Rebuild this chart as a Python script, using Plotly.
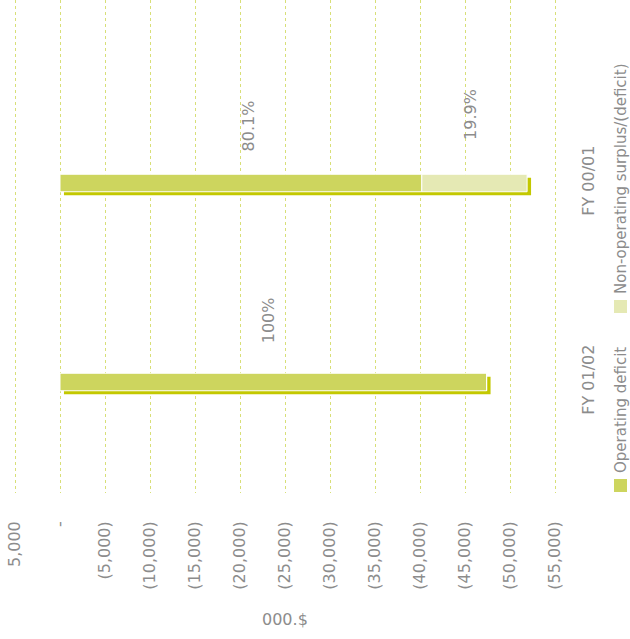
import plotly.graph_objects as go

# ---- data ($'000) ----
categories = ["FY 01/02", "FY 00/01"]
operating_deficit = [-47400, -40200]
non_operating = [0, -11700]
pct_operating = ["100%", "80.1%"]
pct_non_operating = ["", "19.9%"]
tick_values = [5000, 0, -5000, -10000, -15000, -20000, -25000, -30000,
               -35000, -40000, -45000, -50000, -55000]
tick_labels = ["5,000", "-", "(5,000)", "(10,000)", "(15,000)", "(20,000)",
               "(25,000)", "(30,000)", "(35,000)", "(40,000)", "(45,000)",
               "(50,000)", "(55,000)"]
series_names = ["Operating deficit", "Non-operating surplus/(deficit)"]

totals = [o + n for o, n in zip(operating_deficit, non_operating)]

W, H = 630, 639
L, R, T, B = 10, 565, 0, 493
FONT = "DejaVu Sans"
FS = 16
GREY = "#8c8c8c"
C_OP = "#cdd55e"
C_NON = "#e5e9b4"
C_SHADOW = "#c3c800"
C_GRID = "#d8df78"


def xp(px):
    return (px - L) / (R - L)


def yp(py):
    return (B - py) / (B - T)


bw = 0.088
fig = go.Figure()
# shadow
fig.add_trace(go.Bar(
    y=categories, x=totals, base=-440, orientation="h",
    width=bw, offset=-bw / 2 - 0.018,
    marker=dict(color=C_SHADOW, line=dict(width=0)),
    showlegend=False, hoverinfo="skip"))
fig.add_trace(go.Bar(
    y=categories, x=operating_deficit, orientation="h", name=series_names[0],
    width=bw, offset=-bw / 2,
    marker=dict(color=C_OP, line=dict(color="white", width=1)),
    showlegend=False))
fig.add_trace(go.Bar(
    y=categories, x=non_operating, base=operating_deficit, orientation="h",
    name=series_names[1], width=bw, offset=-bw / 2,
    marker=dict(color=C_NON, line=dict(color="white", width=1)),
    showlegend=False))

annotations = []
shifts_op = [(-5, 37), (8, 30)]
shifts_non = [(0, 0), (-4, 41)]
for i, c in enumerate(categories):
    annotations.append(dict(
        x=operating_deficit[i] / 2, y=c, xref="x", yref="y",
        text=pct_operating[i], textangle=-90, showarrow=False,
        yanchor="bottom", xanchor="center",
        xshift=shifts_op[i][0], yshift=shifts_op[i][1],
        font=dict(family=FONT, size=FS, color=GREY)))
    if pct_non_operating[i]:
        annotations.append(dict(
            x=operating_deficit[i] + non_operating[i] / 2, y=c,
            xref="x", yref="y", text=pct_non_operating[i], textangle=-90,
            showarrow=False, yanchor="bottom", xanchor="center",
            xshift=shifts_non[i][0], yshift=shifts_non[i][1],
            font=dict(family=FONT, size=FS, color=GREY)))

# axis title
annotations.append(dict(
    x=xp(285), y=yp(619), xref="paper", yref="paper", text="000.$",
    showarrow=False, xanchor="center", yanchor="middle",
    font=dict(family=FONT, size=FS, color=GREY)))

# legend (rotated)
legend_items = [(series_names[0], C_OP, 492, 475),
                (series_names[1], C_NON, 313, 296)]
shapes = []
for name, col, sw_bottom, txt_bottom in legend_items:
    shapes.append(dict(type="rect", xref="paper", yref="paper",
                       x0=xp(614), x1=xp(627), y0=yp(sw_bottom),
                       y1=yp(sw_bottom - 13),
                       fillcolor=col, line=dict(width=0)))
    annotations.append(dict(
        x=xp(621), y=yp(txt_bottom), xref="paper", yref="paper",
        text=name, textangle=-90, showarrow=False,
        xanchor="center", yanchor="bottom",
        font=dict(family=FONT, size=15, color=GREY)))

unit = 199
fig.update_layout(
    width=W, height=H,
    margin=dict(l=L, r=W - R, t=T, b=H - B, pad=0),
    paper_bgcolor="white", plot_bgcolor="white",
    barmode="overlay", showlegend=False,
    annotations=annotations, shapes=shapes,
    xaxis=dict(
        range=[5000 + (15 - L) / 9 * 1000, -55000 - (R - 555) / 9 * 1000],
        tickmode="array", tickvals=tick_values, ticktext=tick_labels,
        tickangle=-90, ticks="", ticklabelstandoff=24,
        showgrid=True, gridcolor=C_GRID, griddash="dot", gridwidth=1,
        zeroline=False, showline=False,
        tickfont=dict(family=FONT, size=FS, color=GREY)),
    yaxis=dict(
        type="category", categoryorder="array", categoryarray=categories,
        range=[-(B - 382) / unit, 1 + 183 / unit],
        side="right", tickangle=-90, ticks="", ticklabelstandoff=12,
        showgrid=False, zeroline=False, showline=False,
        tickfont=dict(family=FONT, size=FS, color=GREY)),
)

fig.write_html("out.html", config={"displayModeBar": False},
               post_script="document.body.style.margin='0';")
